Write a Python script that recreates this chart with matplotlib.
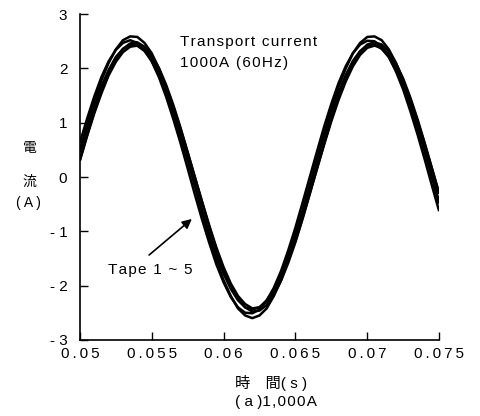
import matplotlib
matplotlib.use('Agg')
import matplotlib.pyplot as plt
import numpy as np

plt.rcParams['font.family'] = ['Liberation Sans', 'Noto Sans CJK JP', 'DejaVu Sans']

# sample times (s), 0.5 ms apart
t = np.arange(51) * 0.0005 + 0.05

tape1 = [0.49, 0.96, 1.39, 1.78, 2.10, 2.35, 2.52, 2.59, 2.58, 2.47, 2.28, 2.00, 1.66,
         1.25, 0.80, 0.33, -0.16, -0.65, -1.11, -1.53, -1.90, -2.19, -2.42, -2.55, -2.60,
         -2.55, -2.42, -2.19, -1.90, -1.53, -1.11, -0.65, -0.16, 0.33, 0.80, 1.25, 1.66,
         2.00, 2.28, 2.47, 2.58, 2.59, 2.52, 2.35, 2.10, 1.78, 1.39, 0.96, 0.49, 0.00, -0.49]
tape2 = [0.63, 1.07, 1.48, 1.84, 2.13, 2.34, 2.47, 2.52, 2.47, 2.34, 2.13, 1.84, 1.48,
         1.07, 0.63, 0.16, -0.32, -0.78, -1.21, -1.61, -1.94, -2.21, -2.40, -2.50, -2.51,
         -2.44, -2.28, -2.04, -1.73, -1.35, -0.93, -0.47, 0.00, 0.47, 0.93, 1.35, 1.73,
         2.04, 2.28, 2.44, 2.51, 2.50, 2.40, 2.21, 1.94, 1.61, 1.21, 0.78, 0.32, -0.16, -0.63]
tape3 = [0.31, 0.77, 1.20, 1.58, 1.91, 2.17, 2.36, 2.46, 2.48, 2.40, 2.24, 2.01, 1.70,
         1.33, 0.91, 0.46, 0.00, -0.46, -0.91, -1.33, -1.70, -2.01, -2.24, -2.40, -2.48,
         -2.46, -2.36, -2.17, -1.91, -1.58, -1.20, -0.77, -0.31, 0.16, 0.62, 1.06, 1.46,
         1.81, 2.09, 2.31, 2.44, 2.48, 2.44, 2.31, 2.09, 1.81, 1.46, 1.06, 0.62, 0.16, -0.31]
tape4 = [0.46, 0.90, 1.31, 1.67, 1.97, 2.21, 2.36, 2.44, 2.42, 2.32, 2.14, 1.88, 1.55,
         1.18, 0.75, 0.31, -0.15, -0.61, -1.04, -1.43, -1.78, -2.06, -2.27, -2.40, -2.44,
         -2.40, -2.27, -2.06, -1.78, -1.43, -1.04, -0.61, -0.15, 0.31, 0.75, 1.18, 1.55,
         1.88, 2.14, 2.32, 2.42, 2.44, 2.36, 2.21, 1.97, 1.67, 1.31, 0.90, 0.46, 0.00, -0.46]
tape5 = [0.30, 0.75, 1.17, 1.54, 1.87, 2.12, 2.30, 2.40, 2.42, 2.34, 2.19, 1.96, 1.66,
         1.30, 0.89, 0.45, 0.00, -0.45, -0.89, -1.30, -1.66, -1.96, -2.19, -2.34, -2.42,
         -2.40, -2.30, -2.12, -1.87, -1.54, -1.17, -0.75, -0.30, 0.15, 0.60, 1.03, 1.42,
         1.76, 2.04, 2.25, 2.38, 2.42, 2.38, 2.25, 2.04, 1.76, 1.42, 1.03, 0.60, 0.15, -0.30]
tapes = [tape1, tape2, tape3, tape4, tape5]

xticks = [0.05, 0.055, 0.06, 0.065, 0.07, 0.075]
yticks = [-3, -2, -1, 0, 1, 2, 3]
ylabels = ['- 3', '- 2', '- 1', '0', '1', '2', '3']

HS = '\u200a'
TS = '\u2009'


def spaced(s, sep=HS):
    return sep.join(s)


fig = plt.figure(figsize=(4.81, 4.16), dpi=100)
ax = fig.add_axes([0.166, 0.183, 0.747, 0.783])

for y in tapes:
    ax.plot(t, y, color='black', lw=1.8, solid_capstyle='butt')

ax.set_xlim(0.05, 0.075)
ax.set_ylim(-3, 3)
ax.set_xticks(xticks)
ax.set_xticklabels([spaced(str(v), TS) for v in xticks])
ax.set_yticks(yticks)
ax.set_yticklabels(ylabels)
ax.tick_params(direction='in', length=6, width=1, labelsize=11)
ax.tick_params(axis='x', pad=5)
ax.tick_params(axis='y', pad=9)
for s in ['top', 'right']:
    ax.spines[s].set_visible(False)
for s in ['left', 'bottom']:
    ax.spines[s].set_linewidth(1.2)

ax.text(0.05696, 2.49, spaced('Transport current'), fontsize=11, va='center')
ax.text(0.05696, 2.10, spaced('1000A (60Hz)'), fontsize=11, va='center')
ax.text(0.05195, -1.71, spaced('Tape 1 ~ 5'), fontsize=11, va='center')
ax.annotate('', xy=(0.05794, -0.74), xytext=(0.05467, -1.47),
            arrowprops=dict(arrowstyle='-|>', color='black', lw=1.2, mutation_scale=14))

fig.text(0.062, 0.644, '電', fontsize=10, ha='center', va='center')
fig.text(0.062, 0.562, '流', fontsize=10, ha='center', va='center')
fig.text(0.060, 0.512, '( A )', fontsize=10, ha='center', va='center')
fig.text(0.564, 0.079, '時\u3000間( s )', fontsize=11, ha='center', va='center')
fig.text(0.574, 0.034, '( a )' + spaced('1,000A'), fontsize=11, ha='center', va='center')

fig.savefig('out.png', dpi=100)
